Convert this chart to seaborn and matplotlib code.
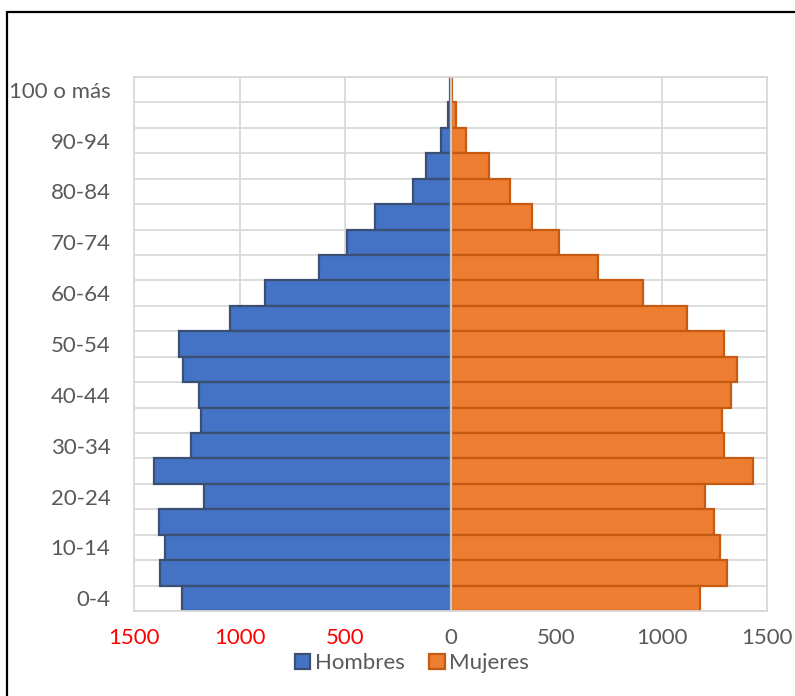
import matplotlib.pyplot as plt
import matplotlib.lines as mlines
import seaborn as sns
from matplotlib.patches import Patch

# grupos de edad, de arriba hacia abajo
grupos = ['100 o más', '95-99', '90-94', '85-89', '80-84', '75-79', '70-74',
          '65-69', '60-64', '55-59', '50-54', '45-49', '40-44', '35-39',
          '30-34', '25-29', '20-24', '15-19', '10-14', '5-9', '0-4']
hombres = [3, 14, 47, 114, 180, 359, 490, 622, 877, 1044, 1285, 1267, 1191,
           1182, 1232, 1406, 1169, 1383, 1354, 1378, 1275]
mujeres = [6, 24, 74, 182, 280, 384, 515, 700, 910, 1122, 1296, 1359, 1327,
           1288, 1296, 1435, 1204, 1251, 1277, 1308, 1182]
xticks = [-1500, -1000, -500, 0, 500, 1000, 1500]

azul, azul_borde = '#4472C4', '#3B4F72'
naranja, naranja_borde = '#ED7D31', '#C55A11'
gris = '#595959'

sns.set_style('white')
plt.rcParams['font.family'] = ['Lato', 'DejaVu Sans']

fig = plt.figure(figsize=(7.95, 6.96), dpi=100)
ax = fig.add_axes([0.1686, 0.1221, 0.7962, 0.7673])

sns.barplot(x=[-v for v in hombres], y=grupos, order=grupos, orient='h',
            color=azul, edgecolor=azul_borde, linewidth=1.6, width=1.0,
            saturation=1, ax=ax)
sns.barplot(x=mujeres, y=grupos, order=grupos, orient='h',
            color=naranja, edgecolor=naranja_borde, linewidth=1.6, width=1.0,
            saturation=1, ax=ax)

ax.set_xlim(-1500, 1500)
ax.set_ylim(len(grupos) - 0.5, -0.5)
ax.set_xlabel('')
ax.set_ylabel('')

ax.set_xticks(xticks)
ax.set_xticklabels([str(abs(t)) for t in xticks], fontsize=16)
for lbl, t in zip(ax.get_xticklabels(), xticks):
    lbl.set_color('red' if t < 0 else gris)

ax.set_yticks(range(0, len(grupos), 2))
ax.set_yticklabels(grupos[::2], fontsize=16, color=gris)
ax.set_yticks([i - 0.5 for i in range(len(grupos) + 1)], minor=True)
ax.tick_params(which='both', length=0)
ax.tick_params(axis='x', pad=12)
ax.tick_params(axis='y', pad=17)

ax.grid(axis='x', which='major', color='#D9D9D9', lw=1.3)
ax.grid(axis='y', which='minor', color='#D9D9D9', lw=1.3)
ax.set_axisbelow(True)
for s in ax.spines.values():
    s.set_color('#D9D9D9')
    s.set_linewidth(1.3)

ax.axvline(0, color='#C4CAD2', lw=1.6, zorder=5)

handles = [Patch(facecolor=azul, edgecolor=azul_borde, lw=1.6, label='Hombres'),
           Patch(facecolor=naranja, edgecolor=naranja_borde, lw=1.6, label='Mujeres')]
fig.legend(handles=handles, loc='center', bbox_to_anchor=(0.518, 0.047), ncol=2,
           frameon=False, fontsize=16, handlelength=0.7, handleheight=0.7,
           handletextpad=0.2, columnspacing=1.1, labelcolor=gris)

# marco del gráfico (solo borde izquierdo y superior visibles)
fig.add_artist(mlines.Line2D([0.009, 0.009], [0.0, 0.983], color='black', lw=1.6))
fig.add_artist(mlines.Line2D([0.009, 1.0], [0.983, 0.983], color='black', lw=1.6))

fig.savefig('out.png', dpi=100)
